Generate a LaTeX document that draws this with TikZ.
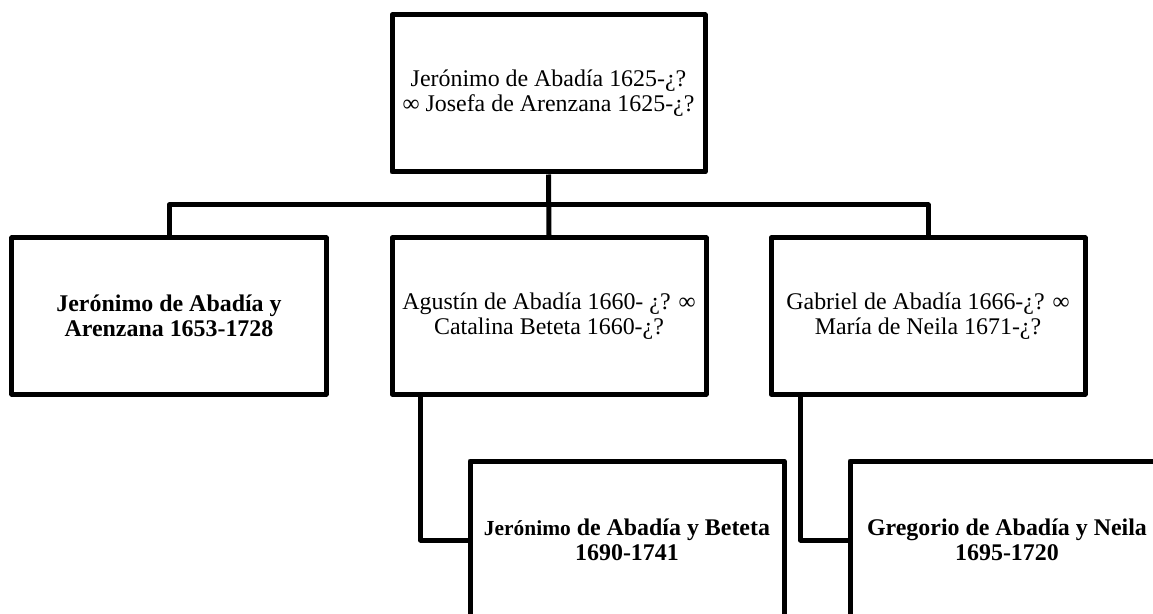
\documentclass[tikz,border=0pt]{standalone}
\usepackage{fontspec}
\setmainfont{Liberation Serif}
\usetikzlibrary{calc}
\begin{document}
\begin{tikzpicture}[x=1bp,y=-1bp,
  person/.style={draw, line width=5bp, line join=round, minimum width=314bp,
    minimum height=156bp, align=center, inner sep=0pt,
    font=\fontsize{24}{25}\selectfont},
  heir/.style={person, font=\fontsize{24}{25}\selectfont\bfseries},
  conn/.style={line width=5bp, line join=round}]
\path[use as bounding box] (0,0) rectangle (1153,614);
\clip (0,0) rectangle (1153,614);

% parents
\node[person, minimum width=313bp, minimum height=157bp] (top) at (548.5,93.5)
  {Jerónimo de Abadía 1625-¿?\\∞ Josefa de Arenzana 1625-¿?};

% children
\node[heir]   (c1) at (169,316) {Jerónimo de Abadía y\\Arenzana 1653-1728};
\node[person] (c2) at (549,316) {Agustín de Abadía 1660- ¿? ∞\\Catalina Beteta 1660-¿?};
\node[person] (c3) at (928,316) {Gabriel de Abadía 1666-¿? ∞\\María de Neila 1671-¿?};

% grandchildren
\node[heir, minimum height=158bp] (g1) at (627,540)
  {{\fontsize{21.5}{25}\selectfont Jerónimo} de Abadía y Beteta\\1690-1741};
\node[heir, minimum height=158bp] (g2) at (1007,540)
  {Gregorio de Abadía y Neila\\1695-1720};

% family bus
\coordinate (bus) at (0,205);
\draw[conn] (top.south) -- (c2.north);
\draw[conn] (c1.north) -- (c1.north |- bus) -- (c3.north |- bus) -- (c3.north);

% descent lines
\draw[conn] ([xshift=31bp]c2.south west) |- (g1.west);
\draw[conn] ([xshift=32bp]c3.south west) |- (g2.west);
\end{tikzpicture}
\end{document}
